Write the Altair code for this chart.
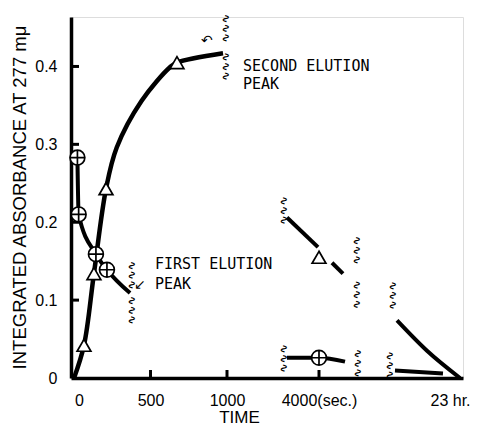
import altair as alt
import pandas as pd

# ---- data (time in seconds, integrated absorbance) ----
# second elution peak (triangles)
sec_left_t = [0, 65, 130, 209, 279, 442, 627, 673, 974]
sec_left_v = [0, 0.042, 0.134, 0.243, 0.296, 0.356, 0.399, 0.405, 0.417]
sec_mid_t = [3179, 3974]
sec_mid_v = [0.206, 0.168]
sec_dash_t = [4333, 4615]
sec_dash_v = [0.148, 0.134]
sec_right_t = [34745, 57626, 82800]
sec_right_v = [0.074, 0.035, 0.0]

# first elution peak (circles)
fir_left_t = [22, 30, 143, 215, 366]
fir_left_v = [0.283, 0.210, 0.159, 0.139, 0.109]
fir_mid_t = [3179, 4000, 4667]
fir_mid_v = [0.026, 0.026, 0.021]
fir_right_t = [33220, 69830]
fir_right_v = [0.0096, 0.0058]

tri_t = [65, 130, 209, 673, 4000]
tri_v = [0.042, 0.134, 0.243, 0.405, 0.155]
circ_t = [22, 30, 143, 215, 4000]
circ_v = [0.283, 0.210, 0.159, 0.139, 0.026]

# axis break marks
break_t = [990, 990, 372, 372, 3077, 4949, 4949, 30933, 3077, 4974, 28645]
break_v = [0.449, 0.400, 0.132, 0.087, 0.215, 0.164, 0.107, 0.106, 0.025, 0.019, 0.016]

# annotations
note_text = ["SECOND ELUTION", "PEAK", "FIRST ELUTION", "PEAK"]
note_t = [1604, 1604, 529, 529]
note_v = [0.400, 0.378, 0.146, 0.121]
arrow_text = ["↶", "↙"]
arrow_t = [869, 431]
arrow_v = [0.433, 0.120]

xtick_vals = [500, 1000, 4000]
ytick_vals = [0.1, 0.2, 0.3, 0.4]
xlabel_vals = [0, 500, 1000, 4000, 82800]
ylabel_vals = [0, 0.1, 0.2, 0.3, 0.4]

# ---- tables ----
def seg_rows(seg, ts, vs):
    return [{"seg": seg, "t": t, "v": v} for t, v in zip(ts, vs)]

curve_df = pd.DataFrame(seg_rows("s1", sec_left_t, sec_left_v))
rows = []
for seg, ts, vs in [("s2", sec_mid_t, sec_mid_v), ("s3", sec_dash_t, sec_dash_v),
                    ("s4", sec_right_t, sec_right_v), ("f1", fir_left_t, fir_left_v),
                    ("f2", fir_mid_t, fir_mid_v), ("f3", fir_right_t, fir_right_v)]:
    rows += seg_rows(seg, ts, vs)
lines_df = pd.DataFrame(rows)
tri_df = pd.DataFrame({"t": tri_t, "v": tri_v})
circ_df = pd.DataFrame({"t": circ_t, "v": circ_v})
break_df = pd.DataFrame({"t": break_t, "v": break_v})
note_df = pd.DataFrame({"t": note_t, "v": note_v, "label": note_text})
arrow_df = pd.DataFrame({"t": arrow_t, "v": arrow_v, "label": arrow_text})
xt_df = pd.DataFrame({"t": xtick_vals})
yt_df = pd.DataFrame({"v": ytick_vals})

W, H = 392, 361
xscale = alt.Scale(domain=[-20, 1000, 3000, 5000, 82800, 85100],
                   range=[0, 156, 209, 287, 389, 392], nice=False, zero=False)
yscale = alt.Scale(domain=[0, 0.4635], nice=False, zero=False)

xaxis = alt.Axis(values=xlabel_vals, ticks=False, tickSize=0, grid=False,
                 domainColor="black", domainWidth=3.5, labelFont="Liberation Sans",
                 labelFontSize=16, labelColor="black", labelPadding=14,
                 labelOverlap=False, labelFlush=False,
                 labelOffset={"condition": [{"test": "datum.value == 0", "value": 5},
                                            {"test": "datum.value == 82800", "value": -10}],
                              "value": 0},
                 labelExpr="datum.value == 4000 ? '4000(sec.)' : datum.value == 82800 ? '23 hr.' : format(datum.value, 'd')",
                 title="TIME", titleFont="Liberation Sans", titleFontSize=17,
                 titleFontWeight="normal", titleColor="black", titleX=168, titleY=39,
                 titleBaseline="middle", titleAlign="center")
yaxis = alt.Axis(values=ylabel_vals, ticks=False, tickSize=0, grid=False,
                 domainColor="black", domainWidth=3.5, labelFont="Liberation Sans",
                 labelFontSize=16, labelColor="black", labelPadding=14,
                 labelExpr="datum.value == 0 ? '0' : format(datum.value, '.1f')",
                 title="INTEGRATED ABSORBANCE AT 277 mμ", titleFont="Liberation Sans",
                 titleFontSize=18.5, titleFontWeight="normal", titleColor="black",
                 titleX=-52, titleY=180, titleAngle=270, titleBaseline="middle",
                 titleAlign="center")

X = alt.X("t:Q", scale=xscale, axis=xaxis)
Y = alt.Y("v:Q", scale=yscale, axis=yaxis)

curve = alt.Chart(curve_df).mark_line(interpolate="catmull-rom", strokeWidth=4.5,
                                      color="black", strokeCap="butt").encode(
    x=X, y=Y, detail="seg:N")
lines = alt.Chart(lines_df).mark_line(interpolate="monotone", strokeWidth=4,
                                      color="black", strokeCap="butt").encode(
    x="t:Q", y="v:Q", detail="seg:N")

xt = alt.Chart(xt_df).mark_rule(color="black", strokeWidth=3).encode(
    x=alt.X("t:Q"), y=alt.value(H), y2=alt.value(H - 8))
yt = alt.Chart(yt_df).mark_rule(color="black", strokeWidth=3).encode(
    y=alt.Y("v:Q"), x=alt.value(0), x2=alt.value(8))

circle_plus = "M-1,0A1,1,0,1,1,1,0A1,1,0,1,1,-1,0ZM-1,0L1,0M0,-1L0,1"
circ = alt.Chart(circ_df).mark_point(shape=circle_plus, size=220, fill="white",
                                     stroke="black", strokeWidth=1.7, opacity=1,
                                     fillOpacity=1).encode(x="t:Q", y="v:Q")
tri = alt.Chart(tri_df).mark_point(shape="triangle-up", size=190, fill="white",
                                   stroke="black", strokeWidth=1.7, opacity=1,
                                   fillOpacity=1).encode(x="t:Q", y="v:Q")

brk = alt.Chart(break_df).mark_text(text="∿∿∿", angle=90, font="DejaVu Sans",
                                    fontSize=11.5, fontWeight="bold",
                                    color="black").encode(x="t:Q", y="v:Q")

notes = alt.Chart(note_df).mark_text(align="left", baseline="middle",
                                     font="DejaVu Sans Mono", fontSize=15,
                                     color="black").encode(x="t:Q", y="v:Q", text="label:N")
arrows = alt.Chart(arrow_df).mark_text(align="center", baseline="middle",
                                       font="DejaVu Sans", fontSize=14,
                                       color="black").encode(x="t:Q", y="v:Q", text="label:N")

chart = alt.layer(curve, lines, xt, yt, circ, tri, brk, notes, arrows).properties(
    width=W, height=H,
    padding={"left": 63, "top": 9, "right": 7, "bottom": 50},
    autosize=alt.AutoSizeParams(type="none"),
).configure_view(stroke=None).configure(background="white")

chart.save("out.html", embed_options={"renderer": "svg", "actions": False})
